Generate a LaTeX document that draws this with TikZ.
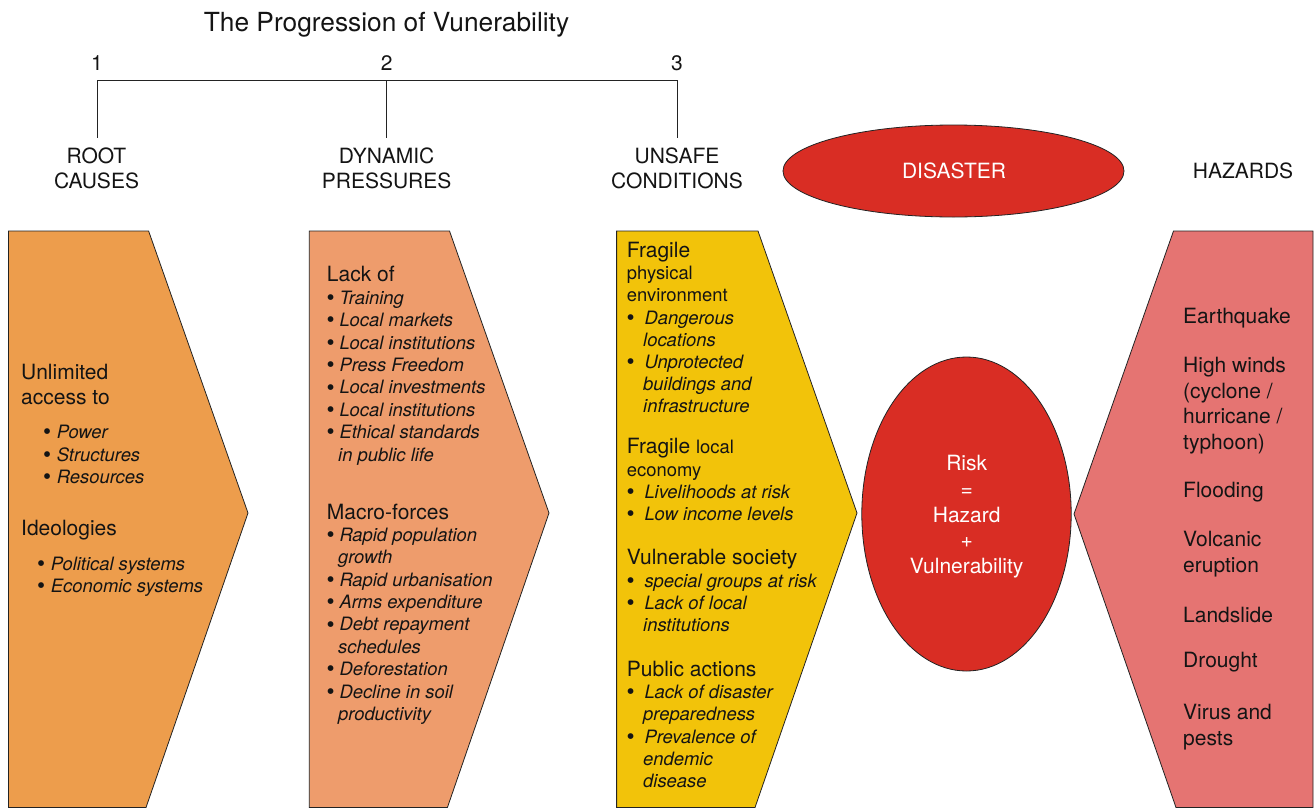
\documentclass[tikz,border=0pt]{standalone}
\usepackage{fontspec}
\setmainfont{TeX Gyre Heros}
\usetikzlibrary{shapes.geometric}

\definecolor{rootfill}{RGB}{237,157,76}
\definecolor{dynfill}{RGB}{238,156,108}
\definecolor{unsafefill}{RGB}{242,195,10}
\definecolor{hazfill}{RGB}{229,116,114}
\definecolor{riskred}{RGB}{217,45,36}
\definecolor{edge}{RGB}{35,35,35}
\definecolor{ink}{RGB}{20,20,20}

% bullet of a given width, followed by an italic item
\newcommand\bul[2]{\makebox[#1][l]{\upshape\raisebox{-1.3pt}{\fontsize{23}{23}\selectfont\textbullet}}\textit{#2}}

\tikzset{
  panel/.style={draw=edge, line width=0.8pt, line join=miter},
  blob/.style={ellipse, draw=edge, line width=0.8pt, fill=riskred, inner sep=0pt},
  rule/.style={draw=edge, line width=0.9pt},
  big/.style={font=\fontsize{21}{25}\selectfont, inner sep=0pt, text=ink, anchor=base west},
  small/.style={font=\fontsize{18.4}{22}\selectfont, inner sep=0pt, text=ink, anchor=base west},
  ital/.style={small, font=\fontsize{18.4}{22}\selectfont\itshape},
  head/.style={big, anchor=base},
  white/.style={font=\fontsize{21}{25}\selectfont, inner sep=0pt, text=white, anchor=base},
}

\begin{document}
\begin{tikzpicture}[x=1pt, y=-1pt]
\useasboundingbox (0,0) rectangle (1315,809);

% ---- title and the numbered bracket ----
\node[font=\fontsize{26.3}{30}\selectfont, inner sep=0pt, text=ink, anchor=base] (title) at (386.5,31) {The Progression of Vunerability};
\node[head] (n1) at (97,70.5) {1};
\node[head] (n2) at (386.6,70.5) {2};
\node[head] (n3) at (677,70.5) {3};
\coordinate (b1) at (97,80.3);
\coordinate (b2) at (386.6,80.3);
\coordinate (b3) at (677,80.3);
\draw[rule] (b1) -- (b3);
\draw[rule] (b1) -- ++(0,57.7);
\draw[rule] (b2) -- ++(0,57.7);
\draw[rule] (b3) -- ++(0,57.7);

\node[head] (h1a) at (96.5,163.2) {ROOT};
\node[head] (h1b) at (96.5,188.2) {CAUSES};
\node[head] (h2a) at (386.6,163.2) {DYNAMIC};
\node[head] (h2b) at (386.6,188.2) {PRESSURES};
\node[head] (h3a) at (677,163.2) {UNSAFE};
\node[head] (h3b) at (677,188.2) {CONDITIONS};
\node[head] (hz) at (1243,178) {HAZARDS};

% ---- disaster ellipse ----
\node[blob, minimum width=341, minimum height=92] (disaster) at (953.5,171) {};
\node[white] (distext) at (954,178) {DISASTER};

% ---- arrow panels ----
\path[panel, fill=rootfill] (8.4,231) -- (148.6,231) -- (248,513) -- (146,807.5) -- (8.4,807.5) -- cycle;
\path[panel, fill=dynfill] (309.3,231) -- (449.5,231) -- (549,513) -- (447.4,807.5) -- (309.3,807.5) -- cycle;
\path[panel, fill=unsafefill] (616.6,231) -- (758,231) -- (857,513) -- (755,807.5) -- (616.6,807.5) -- cycle;
\path[panel, fill=hazfill] (1313,231) -- (1173.5,231) -- (1074,514) -- (1176,807.5) -- (1313,807.5) -- cycle;

% ---- risk ellipse ----
\node[blob, minimum width=209.4, minimum height=314] (risk) at (966.5,514) {};
\node[white] (rk1) at (966.7,470.4) {Risk};
\node[white] (rk2) at (966.7,496.2) {=};
\node[white] (rk3) at (966.7,522) {Hazard};
\node[white] (rk4) at (966.7,547.8) {+};
\node[white] (rk5) at (966.7,573.6) {Vulnerability};

% ---- root causes ----
\node[big] (r1) at (21,379.4) {Unlimited};
\node[big] (r2) at (21,404.4) {access to};
\node[small] (r3) at (43,438.4) {\bul{13.7pt}{Power}};
\node[small] (r4) at (43,461) {\bul{13.7pt}{Structures}};
\node[small] (r5) at (43,483.6) {\bul{13.7pt}{Resources}};
\node[big] (r6) at (21,535.4) {Ideologies};
\node[small] (r7) at (37,570) {\bul{13.7pt}{Political systems}};
\node[small] (r8) at (37,592.5) {\bul{13.7pt}{Economic systems}};

% ---- dynamic pressures ----
\node[big] (d1) at (326.7,281.9) {Lack of};
\node[small] (d2) at (326.3,304.2) {\bul{13pt}{Training}};
\node[small] (d3) at (326.3,326.6) {\bul{13pt}{Local markets}};
\node[small] (d4) at (326.3,349.0) {\bul{13pt}{Local institutions}};
\node[small] (d5) at (326.3,371.4) {\bul{13pt}{Press Freedom}};
\node[small] (d6) at (326.3,393.8) {\bul{13pt}{Local investments}};
\node[small] (d7) at (326.3,416.2) {\bul{13pt}{Local institutions}};
\node[small] (d8) at (326.3,438.6) {\bul{13pt}{Ethical standards}};
\node[ital] (d9) at (338,461.0) {in public life};
\node[big] (d10) at (326.7,519.3) {Macro-forces};
\node[small] (d11) at (326.3,541.2) {\bul{13pt}{Rapid population}};
\node[ital] (d12) at (338,563.6) {growth};
\node[small] (d13) at (326.3,586.0) {\bul{13pt}{Rapid urbanisation}};
\node[small] (d14) at (326.3,608.4) {\bul{13pt}{Arms expenditure}};
\node[small] (d15) at (326.3,630.8) {\bul{13pt}{Debt repayment}};
\node[ital] (d16) at (338,653.2) {schedules};
\node[small] (d17) at (326.3,675.6) {\bul{13pt}{Deforestation}};
\node[small] (d18) at (326.3,698.0) {\bul{13pt}{Decline in soil}};
\node[ital] (d19) at (338,720.4) {productivity};

% ---- unsafe conditions ----
\node[big] (u1) at (626.7,257.4) {Fragile};
\node[small] (u2) at (626.7,279) {physical};
\node[small] (u3) at (626.7,301) {environment};
\node[small] (u4) at (626.3,324.1) {\bul{18pt}{Dangerous}};
\node[ital] (u5) at (643,346.2) {locations};
\node[small] (u6) at (626.3,368.4) {\bul{18pt}{Unprotected}};
\node[ital] (u7) at (643,390.6) {buildings and};
\node[ital] (u8) at (643,412.8) {infrastructure};
\node[big] (u9) at (626.7,453.9) {Fragile {\fontsize{18.4}{22}\selectfont local}};
\node[small] (u10) at (626.7,476.2) {economy};
\node[small] (u11) at (626.3,498) {\bul{18pt}{Livelihoods at risk}};
\node[small] (u12) at (626.3,520.2) {\bul{18pt}{Low income levels}};
\node[big] (u13) at (626.7,564.4) {Vulnerable society};
\node[small] (u14) at (626.3,587) {\bul{18pt}{special groups at risk}};
\node[small] (u15) at (626.3,609.4) {\bul{18pt}{Lack of local}};
\node[ital] (u16) at (643,631.8) {institutions};
\node[big] (u17) at (626.7,676.4) {Public actions};
\node[small] (u18) at (626.3,698.2) {\bul{18pt}{Lack of disaster}};
\node[ital] (u19) at (643,720.6) {preparedness};
\node[small] (u20) at (626.3,743) {\bul{18pt}{Prevalence of}};
\node[ital] (u21) at (643,765.4) {endemic};
\node[ital] (u22) at (643,787.8) {disease};

% ---- hazards ----
\node[big] (z1) at (1183,323.4) {Earthquake};
\node[big] (z2) at (1183,372.4) {High winds};
\node[big] (z3) at (1183,398) {(cyclone /};
\node[big] (z4) at (1183,423.6) {hurricane /};
\node[big] (z5) at (1183,449.2) {typhoon)};
\node[big] (z6) at (1183,497.4) {Flooding};
\node[big] (z7) at (1183,546.4) {Volcanic};
\node[big] (z8) at (1183,572) {eruption};
\node[big] (z9) at (1183,622.4) {Landslide};
\node[big] (z10) at (1183,667.4) {Drought};
\node[big] (z11) at (1183,719.4) {Virus and};
\node[big] (z12) at (1183,745) {pests};
\end{tikzpicture}
\end{document}
